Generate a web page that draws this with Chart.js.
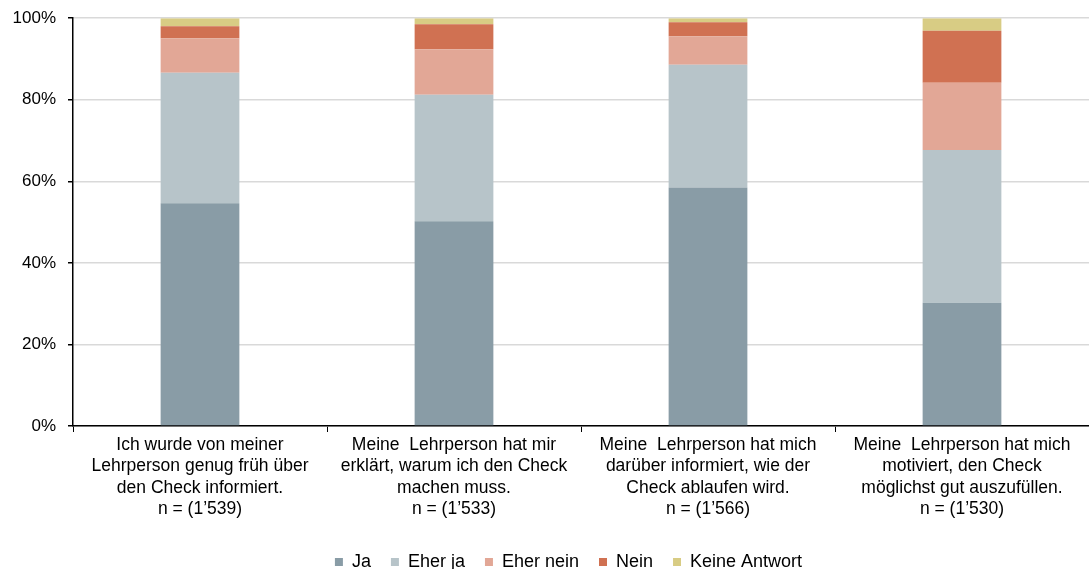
<!DOCTYPE html>
<html lang="de">
<head>
    <meta charset="UTF-8">
    <title>Information zum Check</title>
    <script src="https://cdn.jsdelivr.net/npm/chart.js"></script>
    <style>
        body {
            margin: 0;
            background: #fff;
            overflow: hidden;
        }
        .wrap {
            position: relative;
            width: 1089px;
            height: 585px;
            margin-top: -4px;
        }
    </style>
</head>
<body>
<div class="wrap">
    <canvas id="chart"></canvas>
</div>
<script>
// Kategorien (mehrzeilige Beschriftung)
let categories = [
    ["Ich wurde von meiner", "Lehrperson genug früh über", "den Check informiert.", "n = (1’539)"],
    ["Meine  Lehrperson hat mir", "erklärt, warum ich den Check", "machen muss.", "n = (1’533)"],
    ["Meine  Lehrperson hat mich", "darüber informiert, wie der", "Check ablaufen wird.", "n = (1’566)"],
    ["Meine  Lehrperson hat mich", "motiviert, den Check", "möglichst gut auszufüllen.", "n = (1’530)"]
];

// Anteile in %
let ja          = [54.6, 50.2, 58.5, 30.2];
let eherJa      = [32.0, 31.0, 30.1, 37.5];
let eherNein    = [8.5, 11.2, 7.0, 16.5];
let nein        = [2.9, 6.1, 3.4, 12.7];
let keineAntw   = [2.0, 1.5, 1.0, 3.1];

let yTicks = [0, 20, 40, 60, 80, 100];

Chart.defaults.font.family = "'Liberation Sans', Arial, sans-serif";
Chart.defaults.font.size = 17;
Chart.defaults.color = '#000';

function ds(label, data, color) {
    return {
        label: label,
        data: data,
        backgroundColor: color,
        borderWidth: 0,
        barPercentage: 0.31,
        categoryPercentage: 1.0
    };
}

// Legende etwas nach rechts schieben (wie im Original)
let legendShift = {
    id: 'legendShift',
    afterLayout(chart) {
        chart.legend.left += 24;
        chart.legend.right += 24;
    }
};

let ctx = document.getElementById('chart').getContext('2d');
let chart = new Chart(ctx, {
    type: 'bar',
    data: {
        labels: categories,
        datasets: [
            ds('Ja', ja, '#899ca6'),
            ds('Eher ja', eherJa, '#b7c4c9'),
            ds('Eher nein', eherNein, '#e2a796'),
            ds('Nein', nein, '#d07152'),
            ds('Keine Antwort', keineAntw, '#d8cc84')
        ]
    },
    options: {
        responsive: true,
        maintainAspectRatio: false,
        animation: false,
        layout: { padding: { top: 10, right: 0, left: 0, bottom: 0 } },
        scales: {
            x: {
                stacked: true,
                offset: true,
                grid: {
                    offset: true,
                    drawOnChartArea: false,
                    drawTicks: true,
                    tickLength: 6,
                    tickColor: '#000'
                },
                border: { color: '#000', width: 1.5 },
                ticks: {
                    maxRotation: 0,
                    autoSkip: false,
                    padding: 2,
                    font: { size: 17.5, lineHeight: 1.23 }
                },
                afterFit: function (scale) { scale.height = 107; }
            },
            y: {
                stacked: true,
                min: 0,
                max: 100,
                afterBuildTicks: function (scale) {
                    scale.ticks = yTicks.map(v => ({ value: v }));
                },
                grid: {
                    color: '#d9d9d9',
                    lineWidth: 1.5,
                    tickLength: 5,
                    tickColor: '#000'
                },
                border: { color: '#000', width: 1.5 },
                ticks: {
                    padding: 12,
                    font: { size: 17 },
                    callback: v => v + '%'
                },
                afterFit: function (scale) { scale.width = 73; }
            }
        },
        plugins: {
            legend: {
                position: 'bottom',
                labels: {
                    boxWidth: 8,
                    boxHeight: 8,
                    padding: 20,
                    font: { size: 18 }
                }
            },
            tooltip: { enabled: false }
        }
    },
    plugins: [legendShift]
});
</script>
</body>
</html>
